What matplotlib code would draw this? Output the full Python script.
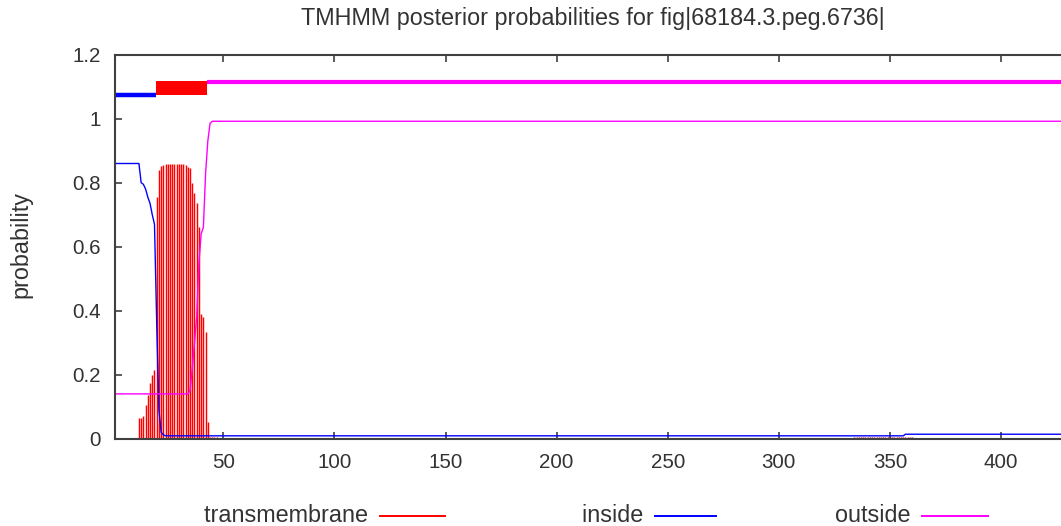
import matplotlib
matplotlib.use("Agg")
import matplotlib.pyplot as plt
from matplotlib.lines import Line2D
from matplotlib.patches import Rectangle

plt.rcParams['font.family'] = ['Liberation Sans', 'DejaVu Sans']

title = "TMHMM posterior probabilities for fig|68184.3.peg.6736|"
seq_len = 427          # only the visible part of the sequence

# predicted topology (top bar)
inside_seg = (1, 19)
tm_seg = (20, 42)
outside_seg = (43, seq_len)

# posterior for "inside" (points where the curve changes)
inside_pos = [1, 12, 13, 14, 15, 16, 17, 18, 19, 20, 21, 22, 23, 24, 356, 357, seq_len]
inside_val = [0.86, 0.86, 0.80, 0.795, 0.78, 0.755, 0.735, 0.70, 0.67, 0.36, 0.09, 0.02, 0.012,
              0.009, 0.009, 0.014, 0.014]

# posterior for "outside"
outside_pos = [1, 34, 35, 36, 37, 38, 39, 40, 41, 42, 43, 44, 45, seq_len]
outside_val = [0.14, 0.14, 0.15, 0.22, 0.30, 0.38, 0.55, 0.64, 0.66, 0.83, 0.93, 0.985, 0.992, 0.992]

# posterior for "transmembrane" (impulses)
tm_pos = list(range(12, 49))
tm_val = [0.064, 0.064, 0.071, 0.105, 0.137, 0.173, 0.20, 0.215, 0.756, 0.84, 0.852, 0.856,
          0.858, 0.86, 0.86, 0.86, 0.86, 0.86, 0.86, 0.86, 0.858, 0.855, 0.85, 0.845, 0.80,
          0.767, 0.736, 0.66, 0.39, 0.38, 0.334, 0.053, 0.006, 0.005, 0.004, 0.004, 0.003]
tm_pos2 = list(range(333, 363))
tm_val2 = [0.003, 0.004, 0.004, 0.004, 0.005, 0.005, 0.005, 0.005, 0.005, 0.005,
           0.005, 0.005, 0.006, 0.006, 0.006, 0.006, 0.006, 0.006, 0.006, 0.006,
           0.006, 0.006, 0.006, 0.005, 0.005, 0.005, 0.004, 0.004, 0.003, 0.003]

xticks = [50, 100, 150, 200, 250, 300, 350, 400]
yticks = [0, 0.2, 0.4, 0.6, 0.8, 1.0, 1.2]
ytick_labels = ['0', '0.2', '0.4', '0.6', '0.8', '1', '1.2']

red = '#ff0000'
blue = '#0000ff'
magenta = '#ff00ff'
txt = '#333333'
frame = '#404040'

W, H = 1061, 526
fig = plt.figure(figsize=(W / 100, H / 100), dpi=100)
ax = fig.add_axes([114.5 / W, (H - 438.7) / H, 1 - 114.5 / W, (438.7 - 54.7) / H])
ax.set_xlim(1, seq_len)
ax.set_ylim(0, 1.2)

ax.vlines(tm_pos, 0, tm_val, color=red, lw=1.05)
ax.vlines(tm_pos2, 0, tm_val2, color='#b00000', lw=1.05)
ax.plot(inside_pos, inside_val, color=blue, lw=1.0)
ax.plot(outside_pos, outside_val, color=magenta, lw=1.0)

# topology bar
ax.plot([inside_seg[0], inside_seg[1] + 0.5], [1.075, 1.075], color=blue, lw=3.2,
        solid_capstyle='butt')
ax.add_patch(Rectangle((tm_seg[0] - 0.5, 1.073), tm_seg[1] - tm_seg[0] + 1, 0.046,
                       color=red, lw=0))
ax.plot([outside_seg[0] - 0.5, outside_seg[1]], [1.116, 1.116], color=magenta, lw=3.0,
        solid_capstyle='butt')

ax.set_xticks(xticks)
ax.set_yticks(yticks)
ax.set_yticklabels(ytick_labels)
ax.tick_params(direction='in', length=5, width=1.2, color=frame, labelcolor=txt,
               labelsize=14.8, top=True, right=False)
ax.tick_params(axis='y', pad=10)
ax.tick_params(axis='x', pad=10)
for side in ['left', 'bottom', 'top']:
    ax.spines[side].set_color(frame)
    ax.spines[side].set_linewidth(1.5)
ax.spines['right'].set_visible(False)

fig.text(593 / W, 1 - 19 / H, title, ha='center', va='center', fontsize=16.8, color=txt)
fig.text(21 / W, 1 - 245 / H, 'probability', rotation=90, ha='center', va='center',
         fontsize=16.8, color=txt)

# legend along the bottom
legend = [('transmembrane', red, 375, 380, 445),
          ('inside', blue, 650, 655, 716),
          ('outside', magenta, 917, 922, 988)]
ly = 1 - 516 / H
for name, col, tx, x0, x1 in legend:
    fig.text(tx / W, ly, name + ' ', ha='right', va='center', fontsize=16.8, color=txt)
    fig.add_artist(Line2D([x0 / W, x1 / W], [ly, ly], color=col, lw=1.4,
                          transform=fig.transFigure))

fig.savefig('out.png', dpi=100)
